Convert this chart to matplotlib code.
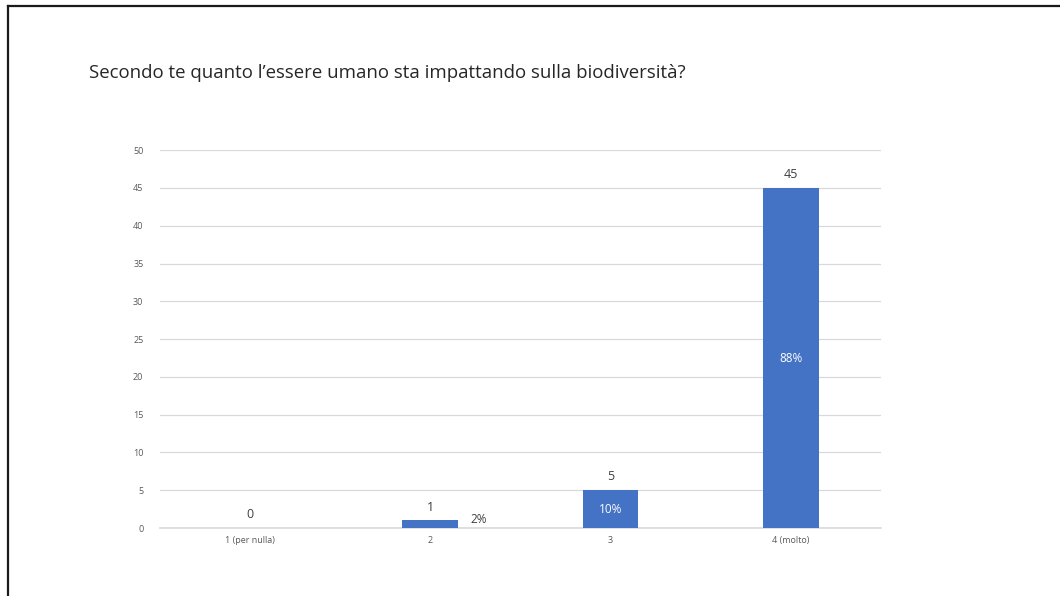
import matplotlib.pyplot as plt
from matplotlib.lines import Line2D

plt.rcParams['font.family'] = ['Open Sans', 'DejaVu Sans']

categorie = ["1 (per nulla)", "2", "3", "4 (molto)"]
risposte = [0, 1, 5, 45]
percentuali = ["", "2%", "10%", "88%"]
yticks = [0, 5, 10, 15, 20, 25, 30, 35, 40, 45, 50]

fig = plt.figure(figsize=(10.6, 5.96), dpi=100)
fig.patch.set_facecolor("white")

# cornice della slide (bordo sinistro e superiore)
fig.add_artist(Line2D([0.0075, 0.0075], [0.0, 0.99], transform=fig.transFigure,
                      color="#1a1a1a", lw=1.6))
fig.add_artist(Line2D([0.0075, 1.0], [0.99, 0.99], transform=fig.transFigure,
                      color="#1a1a1a", lw=1.6))

fig.text(0.084, 0.878, "Secondo te quanto l\u2019essere umano sta impattando sulla biodiversità?",
         fontsize=13.4, color="#262626", va="center", ha="left")

ax = fig.add_axes([0.151, 0.114, 0.680, 0.634])
x = list(range(len(categorie)))
bars = ax.bar(x, risposte, width=0.31, color="#4472C4", zorder=3)

ax.set_xlim(-0.5, len(categorie) - 0.5)
ax.set_ylim(0, 50)
ax.set_yticks(yticks)
ax.set_xticks(x)
ax.set_xticklabels(categorie)
ax.tick_params(axis="both", length=0, labelsize=6.5, labelcolor="#595959")
ax.tick_params(axis="y", pad=12)
ax.tick_params(axis="x", pad=6)
ax.grid(axis="y", color="#d9d9d9", lw=0.9, zorder=0)
ax.axhline(0, color="#d9d9d9", lw=1.2, zorder=2, clip_on=False)
for s in ax.spines.values():
    s.set_visible(False)

for xi, v in zip(x, risposte):
    ax.annotate(str(v), (xi, v), xytext=(0, 5), textcoords="offset points",
                ha="center", va="bottom", fontsize=9, color="#404040")

for xi, v, p in zip(x, risposte, percentuali):
    if not p:
        continue
    if v >= 3:
        ax.text(xi, v / 2, p, ha="center", va="center", fontsize=8.5, color="white", zorder=4)
    else:
        ax.annotate(p, (xi + 0.155, v), xytext=(9, 1), textcoords="offset points",
                    ha="left", va="center", fontsize=8.5, color="#404040")

fig.savefig("out.png", dpi=100)
